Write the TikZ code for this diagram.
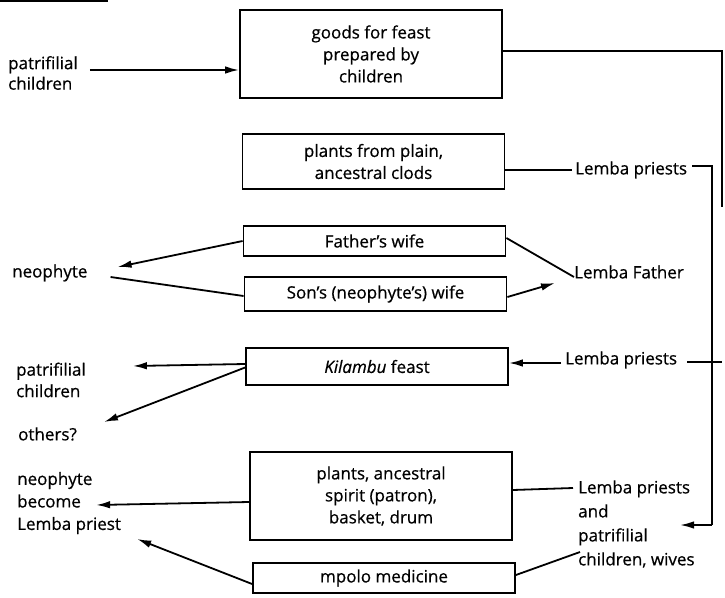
\documentclass[tikz,border=0pt]{standalone}
\usepackage{fontspec}
% slightly heavier strokes for the typewritten look
\setmainfont{Open Sans}[FakeBold=0.6]
\usetikzlibrary{arrows.meta}
\begin{document}
\begin{tikzpicture}[x=1pt,y=-1pt,
  every node/.style={font=\fontsize{17}{22}\selectfont, inner sep=0pt},
  itembox/.style={draw, line width=1.8pt, align=center, minimum width=262pt, inner sep=2pt},
  label/.style={align=left, anchor=west},
  conn/.style={line width=1.8pt},
  arr/.style={line width=1.8pt, -{Latex[length=14pt,width=7.5pt]}}
]
\useasboundingbox (0,0) rectangle (725,597);

% rule at the top edge
\draw[line width=2.5pt] (0,1) -- (108,1);

% boxes in the middle column
\node[itembox, minimum height=88pt] (goods) at (371,54) {goods for feast\\prepared by\\children};
\node[itembox, minimum height=55pt] (plain) at (373.5,161.5) {plants from plain,\\ancestral clods};
\node[itembox, minimum height=30pt] (fwife) at (374.5,241) {Father’s wife};
\node[itembox, minimum height=34pt] (swife) at (375.5,294) {Son’s (neophyte’s) wife};
\node[itembox, minimum height=37pt] (kil) at (377,366.5) {\textit{Kilambu} feast};
\node[itembox, minimum height=88pt] (anc) at (381,496) {plants, ancestral\\spirit (patron),\\basket, drum};
\node[itembox, minimum height=30pt] (mpolo) at (384,578) {mpolo medicine};

% labels on the left
\node[label, font=\fontsize{17}{20.5}\selectfont] (pcA) at (8,73) {patrifilial\\children};
\node[label] (neoA) at (12,273) {neophyte};
\node[label, font=\fontsize{17}{21.5}\selectfont] (pcB) at (16,380) {patrifilial\\children};
\node[label] (others) at (18,434) {others?};
\node[label, font=\fontsize{17}{22.5}\selectfont] (neoB) at (17,503) {neophyte\\become\\Lemba priest};

% labels on the right
\node[label] (lpA) at (575,170) {Lemba priests};
\node[label] (lf) at (574,272) {Lemba Father};
\node[label] (lpB) at (565,360) {Lemba priests};
\node[label, font=\fontsize{17}{24}\selectfont] (lpC) at (578,524) {Lemba priests\\and\\patrifilial\\children, wives};

% frame on the right
\coordinate (frameTop) at (722,51);
\coordinate (frameEnd) at (722,207);
\coordinate (hook) at (712,166);
\coordinate (bend) at (712,525);
\coordinate (bendTip) at (680,525);
\coordinate (tickEnd) at (722,362);

% connectors (yshift is upwards, xshift to the right)
\draw[arr] ([xshift=12pt,yshift=3pt]pcA.east) -- ([yshift=3pt]pcA.east -| goods.west);
\draw[conn] ([yshift=3pt]goods.east) -- (frameTop) -- (frameEnd);

\draw[conn] ([yshift=-8.5pt]plain.east) -- ([xshift=-3pt]lpA.west);
\draw[conn] ([xshift=5pt,yshift=4pt]lpA.east) -- (hook) -- (bend);
\draw[arr] (bend) -- (bendTip);

\draw[arr] (fwife.west) -- ([xshift=30pt,yshift=6pt]neoA.east);
\draw[conn] ([xshift=23pt,yshift=-4pt]neoA.east) -- ([yshift=-2pt]swife.west);
\draw[conn] ([yshift=3pt]fwife.east) -- ([yshift=-5pt]lf.west);
\draw[arr] ([yshift=-3pt]swife.east) -- ([xshift=-19pt,yshift=-11pt]lf.west);

\draw[arr] ([yshift=2.5pt]kil.west) -- ([xshift=47pt,yshift=14pt]pcB.east);
\draw[arr] ([yshift=-1pt]kil.west) -- ([xshift=27pt,yshift=12pt]others.east);
\draw[arr] ([xshift=-4pt,yshift=-3pt]lpB.west) -- ([yshift=-3pt]lpB.west -| kil.east);
\draw[conn] ([xshift=10pt,yshift=-2pt]lpB.east) -- (tickEnd);

\draw[arr] ([yshift=-6pt]anc.west) -- ([xshift=-25pt,yshift=-2pt]neoB.east);
\draw[arr] ([yshift=-6pt]mpolo.west) -- ([xshift=16pt,yshift=-36pt]neoB.east);
\draw[conn] ([yshift=6pt]anc.east) -- ([xshift=-5pt,yshift=36pt]lpC.west);
\draw[conn] ([yshift=3pt]mpolo.east) -- ([xshift=2pt,yshift=-28pt]lpC.west);
\end{tikzpicture}
\end{document}
